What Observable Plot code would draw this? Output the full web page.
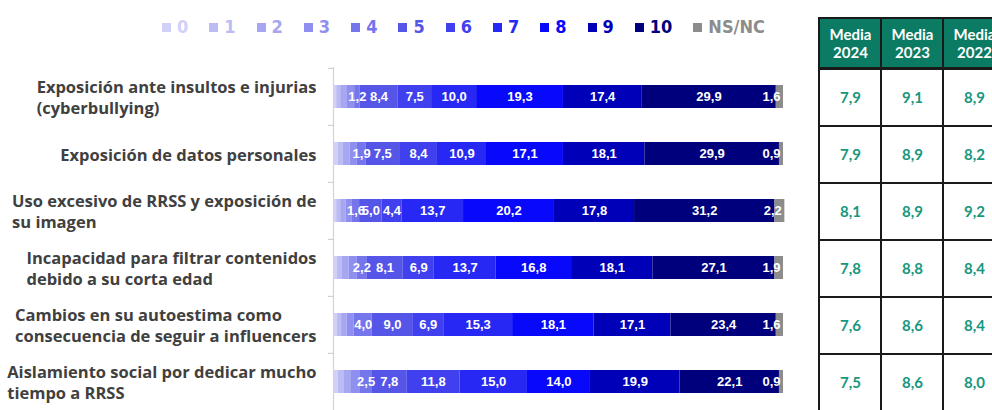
<!DOCTYPE html>
<html>
<head>
<meta charset="utf-8">
<script src="https://cdn.jsdelivr.net/npm/d3@7"></script>
<script src="https://cdn.jsdelivr.net/npm/@observablehq/plot@0.6"></script>
<style>
  html, body { margin: 0; padding: 0; background: #fff; }
  #root { position: relative; width: 992px; height: 410px; overflow: hidden; }
  #root svg { max-width: none !important; }
  #legend { position: absolute; left: 162px; top: 16px; display: flex; align-items: center; gap: 21px;
    font-family: "DejaVu Sans Condensed", "DejaVu Sans", sans-serif; font-stretch: condensed; font-weight: bold; font-size: 18px; line-height: 22px; }
  #legend .item { display: flex; align-items: center; }
  #legend .sw { width: 9px; height: 9px; margin-right: 6px; }
  #chart { position: absolute; left: 0; top: 0; width: 800px; }
  #thead { position: absolute; left: 817px; top: 17px; width: 190px; }
  #tbody { position: absolute; left: 817px; top: 67px; width: 190px; }
</style>
</head>
<body>
<div id="root">
  <div id="chart"></div>
  <div id="legend"></div>
  <div id="thead"></div>
  <div id="tbody"></div>
</div>
<script>
// ---- Data ----
const categories = ["0", "1", "2", "3", "4", "5", "6", "7", "8", "9", "10", "NS/NC"];
const colors = ["#d0d0f8", "#bcbcf5", "#a6a6f2", "#8f8fef", "#7575ec", "#5555e8", "#4040ee", "#2828f5", "#0808fb", "#0000b8", "#00007c", "#8c8c8c"];
const labeledCats = ["4", "5", "6", "7", "8", "9", "10"];

const items = [
  "Exposición ante insultos e injurias\n(cyberbullying)",
  "Exposición de datos personales",
  "Uso excesivo de RRSS y exposición de\nsu imagen",
  "Incapacidad para filtrar contenidos\ndebido a su corta edad",
  "Cambios en su autoestima como\nconsecuencia de seguir a influencers",
  "Aislamiento social por dedicar mucho\ntiempo a RRSS"
];

// values per item, in category order 0..10, NS/NC
const vCyberbullying = [0.7, 0.9, 1.5, 1.6, 1.2, 8.4, 7.5, 10.0, 19.3, 17.4, 29.9, 1.6];
const vDatos         = [1.0, 1.2, 1.5, 1.6, 1.9, 7.5, 8.4, 10.9, 17.1, 18.1, 29.9, 0.9];
const vUsoExcesivo   = [0.7, 0.9, 1.2, 1.4, 1.6, 5.0, 4.4, 13.7, 20.2, 17.8, 31.2, 2.2];
const vIncapacidad   = [0.9, 1.1, 1.5, 1.7, 2.2, 8.1, 6.9, 13.7, 16.8, 18.1, 27.1, 1.9];
const vAutoestima    = [0.8, 1.0, 1.2, 1.6, 4.0, 9.0, 6.9, 15.3, 18.1, 17.1, 23.4, 1.6];
const vAislamiento   = [1.0, 1.3, 1.7, 2.0, 2.5, 7.8, 11.8, 15.0, 14.0, 19.9, 22.1, 0.9];
const series = [vCyberbullying, vDatos, vUsoExcesivo, vIncapacidad, vAutoestima, vAislamiento];

const years = ["2024", "2023", "2022"];
const media2024 = [7.9, 7.9, 8.1, 7.8, 7.6, 7.5];
const media2023 = [9.1, 8.9, 8.9, 8.8, 8.6, 8.6];
const media2022 = [8.9, 8.2, 9.2, 8.4, 8.4, 8.0];
const medias = [media2024, media2023, media2022];

// ---- Helpers ----
const fmt = v => d3.format(".1f")(v).replace(".", ",");
const segs = [];
items.forEach((it, i) => categories.forEach((c, k) => segs.push({item: it, cat: c, value: series[i][k]})));

// ---- Legend ----
const legend = d3.select("#legend");
categories.forEach((c, k) => {
  const it = legend.append("div").attr("class", "item");
  it.append("div").attr("class", "sw").style("background", colors[k]);
  it.append("span").style("color", colors[k]).text(c);
});

// ---- Main chart ----
const W = 800, H = 411, mTop = 67, mLeft = 333, mRight = 17, mBottom = 0;
const step = (H - mTop - mBottom) / items.length;
const labelSize = 16.5;
const labelFont = `700 ${labelSize}px 'Open Sans'`;
const ctx = document.createElement("canvas").getContext("2d");
ctx.font = labelFont;
const labelWidth = s => d3.max(s.split("\n"), l => ctx.measureText(l).width);

const labelMarks = items.map(it => Plot.text([it], {
  x: () => 0, y: d => d, text: d => d,
  textAnchor: "start", lineAnchor: "middle", lineHeight: 1.28,
  dx: -(labelWidth(it) + 17),
  fontSize: labelSize, fontWeight: 700, fontFamily: "Open Sans", fill: "#404040"
}));

const chart = Plot.plot({
  width: W, height: H,
  marginTop: mTop, marginLeft: mLeft, marginRight: mRight, marginBottom: mBottom,
  x: {domain: [0, 100], axis: null},
  y: {domain: items, axis: null, paddingInner: 0.6, paddingOuter: 0.3},
  color: {domain: categories, range: colors},
  style: {background: "transparent"},
  marks: [
    Plot.barX(segs, Plot.stackX({x: "value", y: "item", z: "cat", fill: "cat", order: categories})),
    Plot.text(segs, Plot.stackX({
      x: "value", y: "item", z: "cat", order: categories,
      text: d => labeledCats.includes(d.cat) ? fmt(d.value) : "",
      fill: "white", fontSize: 13, fontWeight: "bold", fontFamily: "Liberation Sans"
    })),
    Plot.text(segs, Plot.stackX2({
      x: "value", y: "item", z: "cat", order: categories,
      text: d => d.cat === "NS/NC" ? fmt(d.value) : "",
      textAnchor: "end", dx: -3,
      fill: "white", fontSize: 13, fontWeight: "bold", fontFamily: "Liberation Sans"
    })),
    Plot.ruleX([0], {stroke: "#d4d4d4", strokeWidth: 1.2}),
    Plot.axisY({tickSize: 5, tickFormat: () => "", label: null, dy: -step / 2, stroke: "#c8c8c8"}),
    ...labelMarks
  ]
});
document.getElementById("chart").append(chart);

// ---- Table ----
const headCells = years.map(y => ({year: y, row: "h"}));
const thead = Plot.plot({
  width: 190, height: 52,
  marginTop: 1, marginBottom: 1, marginLeft: 1, marginRight: 1,
  x: {domain: years, axis: null, padding: 0},
  y: {domain: ["h"], axis: null, padding: 0},
  style: {background: "transparent", overflow: "visible"},
  marks: [
    Plot.cell(headCells, {x: "year", y: "row", fill: "#0b7b64", stroke: "#1a1a1a", strokeWidth: 2}),
    Plot.text(headCells, {x: "year", y: "row", text: d => "Media\n" + d.year, fill: "white",
      fontSize: 15, fontWeight: 700, fontFamily: "Lato", lineHeight: 1.2})
  ]
});
document.getElementById("thead").append(thead);

const bodyCells = [];
years.forEach((y, j) => items.forEach((it, i) => bodyCells.push({year: y, item: it, value: medias[j][i]})));
const tbody = Plot.plot({
  width: 190, height: 346,
  marginTop: 1, marginBottom: 1, marginLeft: 1, marginRight: 1,
  x: {domain: years, axis: null, padding: 0},
  y: {domain: items, axis: null, padding: 0},
  style: {background: "transparent", overflow: "visible"},
  marks: [
    Plot.cell(bodyCells, {x: "year", y: "item", fill: "white", stroke: "#1a1a1a", strokeWidth: 2}),
    Plot.text(bodyCells, {x: "year", y: "item", text: d => fmt(d.value), fill: "#17977d",
      fontSize: 15, fontWeight: 700, fontFamily: "Lato"})
  ]
});
document.getElementById("tbody").append(tbody);
</script>
</body>
</html>
